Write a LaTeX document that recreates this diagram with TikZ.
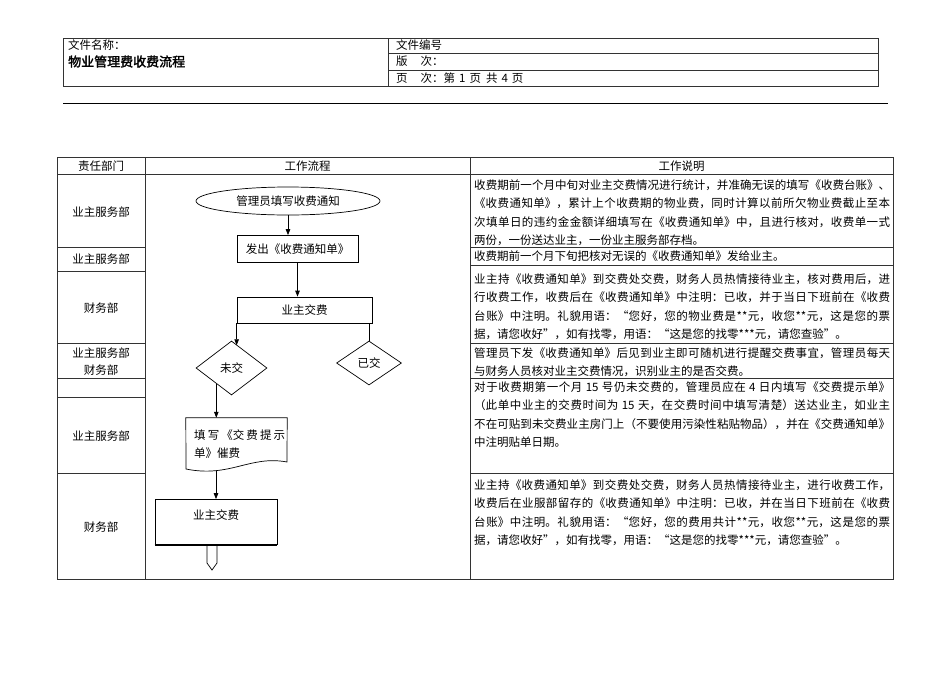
\documentclass[tikz,border=0pt]{standalone}
\usepackage{fontspec}
\setmainfont{Noto Sans CJK SC}[AutoFakeBold=2]
\usetikzlibrary{shapes.geometric,arrows.meta}
\XeTeXlinebreaklocale "zh"
\XeTeXlinebreakskip=0pt plus 1pt
\begin{document}
\begin{tikzpicture}[x=1pt,y=-1pt,
  tab/.style={draw=black!80, line width=0.7pt},
  lbl/.style={font=\fontsize{11.5}{17}\selectfont, inner sep=0pt},
  hdr/.style={font=\fontsize{11.5}{13}\selectfont, inner sep=0pt, anchor=west},
  desc/.style={anchor=north west, inner sep=0pt, text width=416pt, align=justify, font=\fontsize{11.5}{18.5}\selectfont},
  fbox/.style={draw, line width=0.7pt, rectangle, inner sep=0pt, font=\fontsize{11.5}{14}\selectfont},
  arr/.style={line width=0.8pt, -{Triangle[length=6pt,width=4.5pt]}},
  ln/.style={line width=0.8pt}]
\fill[white] (0,0) rectangle (950,672);
\useasboundingbox (0,0) rectangle (950,672);

% ---- document header ----
\draw[tab] (63,38) rectangle (878,86);
\draw[tab] (388,38) -- (388,86);
\draw[tab] (388,53) -- (878,53);
\draw[tab] (388,70) -- (878,70);
\node[hdr] (h1) at (68,45) {文件名称：};
\node[hdr, font=\fontsize{13}{15}\selectfont\bfseries] (h2) at (68,61.5) {物业管理费收费流程};
\node[hdr] (h3) at (396,45) {文件编号};
\node[hdr] (h4) at (396,61.5) {版\hspace{13pt}次：};
\node[hdr] (h5) at (396,78) {页\hspace{13pt}次：第\hspace{4pt}1\hspace{4pt}页\hspace{5pt}共\hspace{4pt}4\hspace{4pt}页};
\draw[line width=1.2pt] (63,103.5) -- (888,103.5);

% ---- main table ----
\draw[tab] (57,157) rectangle (893,579);
\draw[tab] (145,157) -- (145,579);
\draw[tab] (470,157) -- (470,579);
\draw[tab] (57,174) -- (893,174);
\foreach \yy in {247,271,343,378,397,473} \draw[tab] (57,\yy) -- (145,\yy);
\foreach \yy in {247,265,343,378,473} \draw[tab] (470,\yy) -- (893,\yy);

\node[lbl] (t1) at (101,166) {责任部门};
\node[lbl] (t2) at (307.5,166) {工作流程};
\node[lbl] (t3) at (681.5,166) {工作说明};

\node[lbl] (l1) at (101,212) {业主服务部};
\node[lbl] (l2) at (101,259) {业主服务部};
\node[lbl] (l3) at (101,308) {财务部};
\node[lbl, align=center] (l4) at (101,361.5) {业主服务部\\财务部};
\node[lbl] (l5) at (101,436) {业主服务部};
\node[lbl] (l6) at (101,527) {财务部};

% ---- descriptions ----
\node[desc] (r1) at (474,179.5) {收费期前一个月中旬对业主交费情况进行统计，并准确无误的填写《收费台账》、\linebreak
《收费通知单》，累计上个收费期的物业费，同时计算以前所欠物业费截止至本\linebreak
次填单日的违约金金额详细填写在《收费通知单》中，且进行核对，收费单一式\linebreak
两份，一份送达业主，一份业主服务部存档。};
\node[desc] (r2) at (474,250.5) {收费期前一个月下旬把核对无误的《收费通知单》发给业主。};
\node[desc] (r3) at (474,273.5) {业主持《收费通知单》到交费处交费，财务人员热情接待业主，核对费用后，进\linebreak
行收费工作，收费后在《收费通知单》中注明：已收，并于当日下班前在《收费\linebreak
台账》中注明。礼貌用语：“您好，您的物业费是**元，收您**元，这是您的票\linebreak
据，请您收好”，如有找零，用语：“这是您的找零***元，请您查验”。};
\node[desc] (r4) at (474,347.5) {管理员下发《收费通知单》后见到业主即可随机进行提醒交费事宜，管理员每天\linebreak
与财务人员核对业主交费情况，识别业主的是否交费。};
\node[desc] (r5) at (474,381.5) {对于收费期第一个月 15 号仍未交费的，管理员应在 4 日内填写《交费提示单》\linebreak
（此单中业主的交费时间为 15 天，在交费时间中填写清楚）送达业主，如业主\linebreak
不在可贴到未交费业主房门上（不要使用污染性粘贴物品），并在《交费通知单》\linebreak
中注明贴单日期。};
\node[desc] (r6) at (474,479.5) {业主持《收费通知单》到交费处交费，财务人员热情接待业主，进行收费工作，\linebreak
收费后在业服部留存的《收费通知单》中注明：已收，并在当日下班前在《收费\linebreak
台账》中注明。礼貌用语：“您好，您的费用共计**元，收您**元，这是您的票\linebreak
据，请您收好”，如有找零，用语：“这是您的找零***元，请您查验”。};

% ---- flowchart ----
\node[ellipse, draw, line width=0.7pt, minimum width=184pt, minimum height=28pt, inner sep=0pt,
      font=\fontsize{11.5}{14}\selectfont] (e1) at (288,201) {管理员填写收费通知};
\node[fbox, minimum width=121pt, minimum height=27pt] (b2) at (297.5,249) {发出《收费通知单》};
\node[fbox, minimum width=135pt, minimum height=26pt] (b3) at (304.5,310) {业主交费};
\node[diamond, draw, line width=0.7pt, minimum width=71pt, minimum height=54pt, inner sep=0pt,
      font=\fontsize{11.5}{14}\selectfont] (d1) at (231.5,368) {未交};
\node[diamond, draw, line width=0.7pt, minimum width=65pt, minimum height=44pt, inner sep=0pt,
      font=\fontsize{11.5}{14}\selectfont] (d2) at (369,363) {已交};

% document shape
\node[minimum width=101pt, minimum height=53pt, inner sep=0pt] (doc) at (236.5,444.5) {};
\draw[line width=0.7pt] (doc.north west) -- (doc.north east) -- (287,462)
   .. controls (250,455) and (230,478) .. (186,469) -- cycle;
\node[anchor=north west, inner sep=0pt, text width=91pt, align=justify,
      font=\fontsize{11.5}{18}\selectfont] (doct) at (194,429.5) {填写《交费提示\linebreak
单》催费};

\node[fbox, minimum width=122pt, minimum height=45pt] (b4) at (216,522) {};
\node[lbl] (b4t) at (216,515) {业主交费};
\draw[line width=1.4pt] (b4.south west) -- (b4.south east);
\draw[line width=0.7pt] (207,545) -- (207,563) -- (212,570) -- (217,563) -- (217,545);

% connectors
\draw[arr] (e1.south) -- (e1.south |- b2.north);
\draw[arr] (b2.south) -- (b2.south |- b3.north);
\draw[arr] (b3.south west) -- (b3.south west |- d1.75);
\draw[ln] (b3.south -| d2.north) -- (d2.north);
\draw[arr] (d1.226) -- (d1.226 |- doc.north);
\draw[arr] (doc.south -| b4.north) -- (b4.north);
\end{tikzpicture}
\end{document}
